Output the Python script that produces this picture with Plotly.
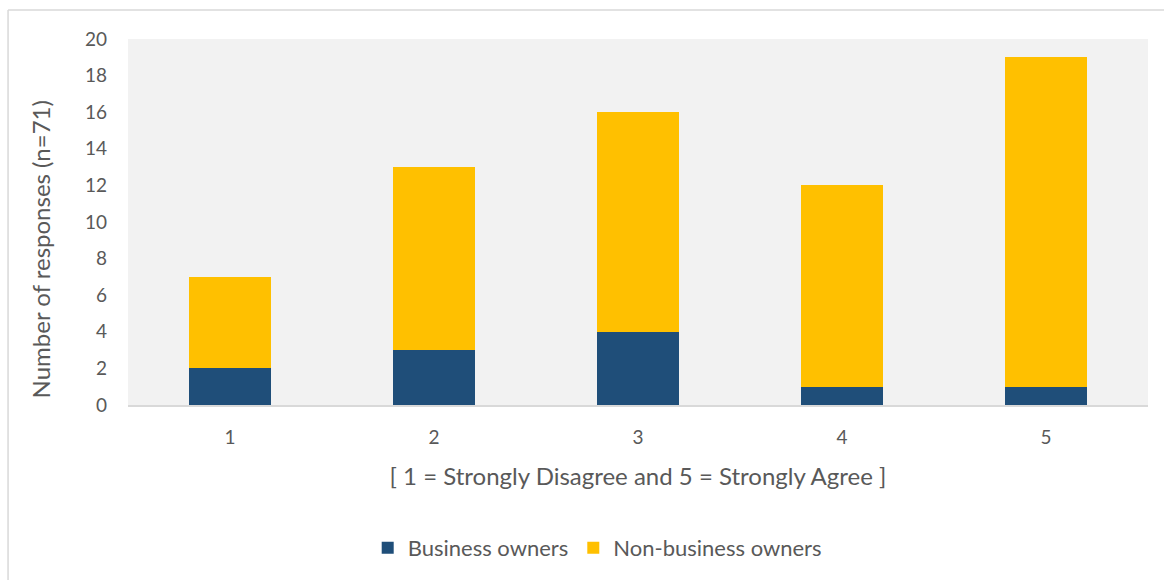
import plotly.graph_objects as go

# Likert-scale responses split by respondent group
categories = ["1", "2", "3", "4", "5"]
business_owners = [2, 3, 4, 1, 1]
non_business_owners = [5, 10, 12, 11, 18]
y_ticks = [0, 2, 4, 6, 8, 10, 12, 14, 16, 18, 20]

FONT = "Lato, 'Open Sans', sans-serif"
TEXT_GREY = "#595959"

fig = go.Figure()
fig.add_trace(go.Bar(
    x=categories, y=business_owners, name="Business owners",
    marker=dict(color="#1F4E79", line=dict(width=0)),
))
fig.add_trace(go.Bar(
    x=categories, y=non_business_owners, name="Non-business owners",
    marker=dict(color="#FFC000", line=dict(width=0)),
))

# outer frame (top and left edges visible)
frame = dict(color="#D9D9D9", width=1.5)
fig.add_shape(type="line", xref="paper", yref="paper",
              x0=-0.1176, x1=1.02, y0=1.079, y1=1.079, line=frame)
fig.add_shape(type="line", xref="paper", yref="paper",
              x0=-0.1176, x1=-0.1176, y0=1.079, y1=-0.48, line=frame)

# vertical axis title, sitting a little below the axis midpoint
fig.add_annotation(
    text="Number of responses (n=71)", textangle=-90,
    xref="paper", yref="paper", x=-0.0863, y=0.425,
    xanchor="center", yanchor="middle", showarrow=False,
    font=dict(size=24, color=TEXT_GREY, family=FONT),
)

fig.update_layout(
    barmode="stack",
    bargap=0.6,
    width=1164, height=580,
    margin=dict(l=128, r=16, t=39, b=174),
    paper_bgcolor="white",
    plot_bgcolor="#F2F2F2",
    font=dict(family=FONT, color=TEXT_GREY, size=19),
    xaxis=dict(
        title=dict(text="[ 1 = Strongly Disagree and 5 = Strongly Agree ]",
                   font=dict(size=24, color=TEXT_GREY), standoff=22),
        showgrid=False, ticks="", showline=True, linecolor="#D9D9D9",
        linewidth=1.5, tickfont=dict(size=19, color=TEXT_GREY),
        ticklabelstandoff=14,
    ),
    yaxis=dict(
        range=[0, 20], tickvals=y_ticks, showgrid=False, zeroline=False,
        ticks="", tickfont=dict(size=19, color=TEXT_GREY),
        ticklabelstandoff=20,
    ),
    legend=dict(
        orientation="h", x=0.46, xanchor="center", y=-0.387, yanchor="middle",
        font=dict(size=22, color=TEXT_GREY), itemwidth=30,
        traceorder="normal",
    ),
    showlegend=True,
)

fig.write_html("out.html")
